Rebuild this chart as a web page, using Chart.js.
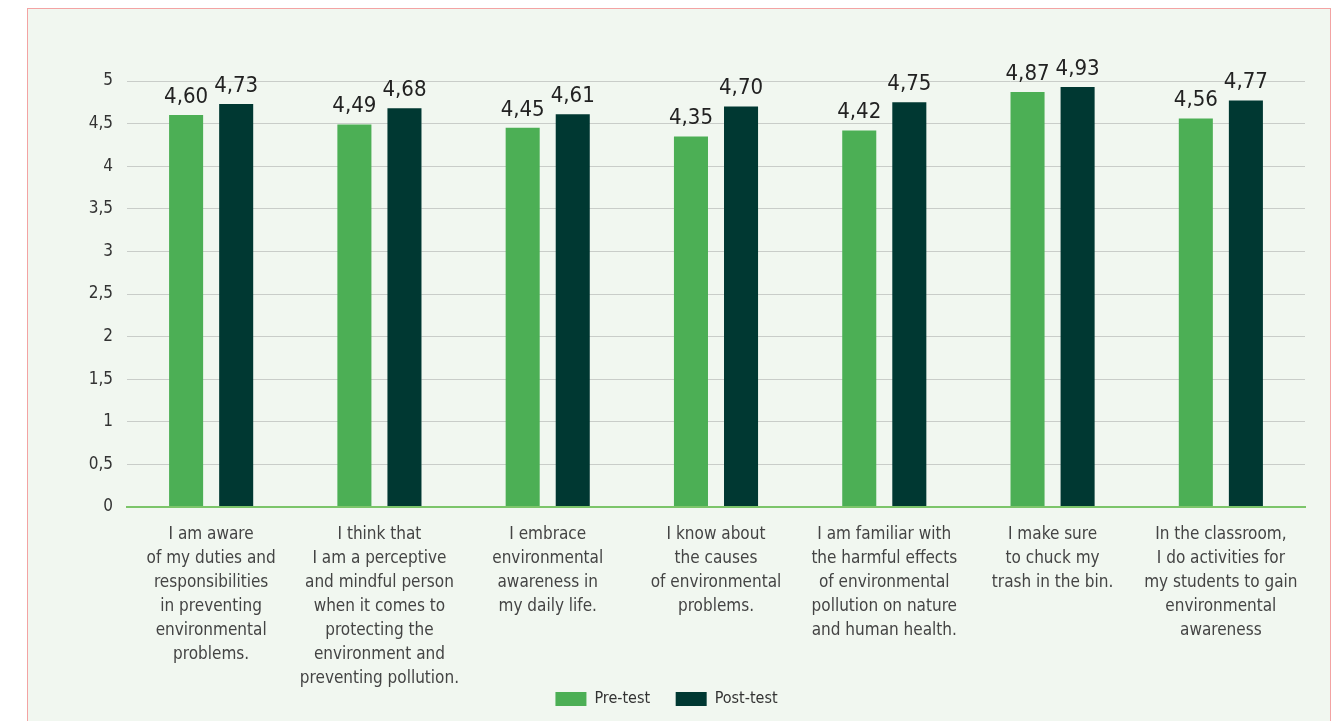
<!DOCTYPE html>
<html>
<head>
<meta charset="utf-8">
<script src="https://cdn.jsdelivr.net/npm/chart.js@4.4.1/dist/chart.umd.min.js"></script>
<style>
  html,body{margin:0;padding:0;background:#fff;width:1334px;height:721px;overflow:hidden;}
  .frame{position:absolute;left:27px;top:8px;width:1302px;height:720px;background:#f1f7f0;
    border:1.5px solid #f3a3a3;border-bottom:none;}
  .frame canvas{display:block;}
</style>
</head>
<body>
<div class="frame"><canvas id="c" width="1302" height="713"></canvas></div>
<script>
const FONT = '"DejaVu Sans Condensed", "DejaVu Sans", sans-serif';
const STRETCH = 'condensed';

const categories = [
  ['I am aware', 'of my duties and', 'responsibilities', 'in preventing', 'environmental', 'problems.'],
  ['I think that', 'I am a perceptive', 'and mindful person', 'when it comes to', 'protecting the', 'environment and', 'preventing pollution.'],
  ['I embrace', 'environmental', 'awareness in', 'my daily life.'],
  ['I know about', 'the causes', 'of environmental', 'problems.'],
  ['I am familiar with', 'the harmful effects', 'of environmental', 'pollution on nature', 'and human health.'],
  ['I make sure', 'to chuck my', 'trash in the bin.'],
  ['In the classroom,', 'I do activities for', 'my students to gain', 'environmental', 'awareness']
];
const preTest  = [4.60, 4.49, 4.45, 4.35, 4.42, 4.87, 4.56];
const postTest = [4.73, 4.68, 4.61, 4.70, 4.75, 4.93, 4.77];
const yTicks = [0, 0.5, 1, 1.5, 2, 2.5, 3, 3.5, 4, 4.5, 5];

const comma = v => String(v).replace('.', ',');

// value labels above each bar, two decimals with a decimal comma
const barValues = {
  id: 'barValues',
  afterDatasetsDraw(chart){
    const ctx = chart.ctx;
    ctx.save();
    ctx.font = STRETCH + ' 22px ' + FONT;
    ctx.fillStyle = '#222';
    ctx.textAlign = 'center';
    ctx.textBaseline = 'bottom';
    chart.data.datasets.forEach((ds, i) => {
      chart.getDatasetMeta(i).data.forEach((bar, j) => {
        ctx.fillText(ds.data[j].toFixed(2).replace('.', ','), bar.x, bar.y - 7);
      });
    });
    ctx.restore();
  }
};

new Chart(document.getElementById('c'), {
  type: 'bar',
  data: {
    labels: categories,
    datasets: [
      { label: 'Pre-test',  data: preTest,  backgroundColor: '#4caf55' },
      { label: 'Post-test', data: postTest, backgroundColor: '#003832' }
    ]
  },
  options: {
    responsive: false,
    animation: false,
    layout: { padding: { top: 72, right: 25, bottom: 5, left: 0 } },
    datasets: { bar: { categoryPercentage: 0.595, barPercentage: 0.68 } },
    scales: {
      x: {
        grid: { display: false },
        border: { color: '#7cc56a', width: 2 },
        ticks: { color: '#444', font: { family: FONT, style: STRETCH, size: 17, lineHeight: 1.41 }, padding: 8, maxRotation: 0, autoSkip: false },
        afterFit: s => { s.height = 180; }
      },
      y: {
        min: 0, max: 5,
        afterBuildTicks: s => { s.ticks = yTicks.map(v => ({ value: v })); },
        afterFit: s => { s.width = 99; },
        border: { display: false },
        grid: {
          drawTicks: false,
          color: c => c.tick && c.tick.value === 0 ? '#7cc56a' : '#c9cdc9',
          lineWidth: c => c.tick && c.tick.value === 0 ? 2 : 1
        },
        ticks: { color: '#333', font: { family: FONT, style: STRETCH, size: 17 }, padding: 14, callback: v => comma(v) }
      }
    },
    plugins: {
      legend: {
        position: 'bottom',
        labels: {
          color: '#333', font: { family: FONT, style: STRETCH, size: 16 }, boxWidth: 31, boxHeight: 14, padding: 4,
          // wider gap between the two entries without making the legend taller
          generateLabels: chart => Chart.defaults.plugins.legend.labels.generateLabels(chart)
            .map((it, i, all) => (i < all.length - 1 ? Object.assign(it, { text: it.text + '\u2002\u2002\u2002' }) : it))
        }
      },
      tooltip: { enabled: false }
    }
  },
  plugins: [barValues]
});
</script>
</body>
</html>
